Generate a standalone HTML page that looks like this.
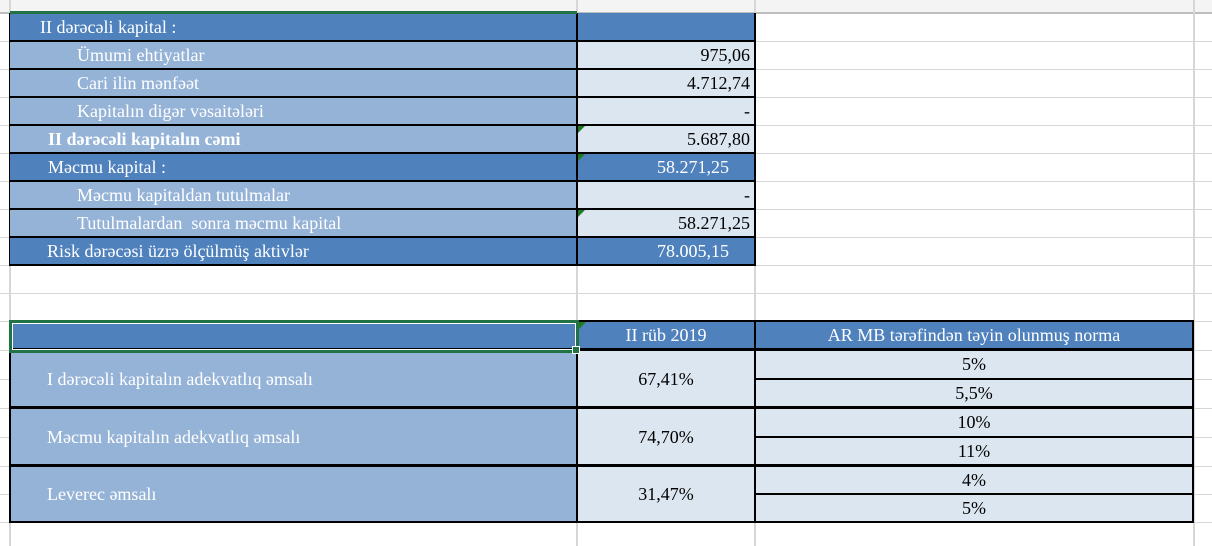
<!DOCTYPE html><html><head><meta charset="utf-8"><style>
body{margin:0;width:1212px;height:546px;overflow:hidden;background:#fff;position:relative;font-family:"Liberation Serif","Times New Roman",serif;font-size:18px}
div{position:absolute;box-sizing:border-box}
.h{height:1px;left:0;width:1212px;background:#d6d6d6}
.v{width:2px;top:0;height:546px;background:#d6d6d6}
.c{line-height:28px;white-space:nowrap;overflow:hidden}
.d{background:#4f81bd;color:#fff}
.l{background:#95b3d7;color:#fff}
.p{background:#dce6f1;color:#000}
.bh{background:#000;height:2px}
.bv{background:#000;width:2px}
.tri{width:0;height:0;border-top:7px solid #1e7a1e;border-right:7px solid transparent}
</style></head><body>
<div style="left:0;top:0;width:1212px;height:12px;background:#f4f4f4"></div>
<div class="h" style="top:12px;background:#bdbdbd;height:2px"></div>
<div class="h" style="top:41px"></div><div class="h" style="top:69px"></div><div class="h" style="top:97px"></div><div class="h" style="top:125px"></div><div class="h" style="top:153px"></div><div class="h" style="top:181px"></div><div class="h" style="top:209px"></div><div class="h" style="top:237px"></div><div class="h" style="top:265px"></div><div class="h" style="top:293px"></div><div class="h" style="top:321px"></div><div class="h" style="top:350px"></div><div class="h" style="top:379px"></div><div class="h" style="top:408px"></div><div class="h" style="top:437px"></div><div class="h" style="top:466px"></div><div class="h" style="top:494px"></div><div class="h" style="top:522px"></div>
<div class="v" style="left:9px"></div><div class="v" style="left:576px"></div><div class="v" style="left:754px"></div><div class="v" style="left:1193px"></div>

<!-- top table -->
<div class="c d" style="left:10px;top:13px;width:567px;height:28px;padding-left:30px">II dərəcəli kapital :</div>
<div class="c d" style="left:577px;top:13px;width:177px;height:28px"></div>
<div class="c l" style="left:10px;top:41px;width:567px;height:28px;padding-left:67px">Ümumi ehtiyatlar</div>
<div class="c p" style="left:577px;top:41px;width:177px;height:28px;text-align:right;padding-right:4px">975,06</div>
<div class="c l" style="left:10px;top:69px;width:567px;height:28px;padding-left:67px">Cari ilin mənfəət</div>
<div class="c p" style="left:577px;top:69px;width:177px;height:28px;text-align:right;padding-right:4px">4.712,74</div>
<div class="c l" style="left:10px;top:97px;width:567px;height:28px;padding-left:67px">Kapitalın digər vəsaitələri</div>
<div class="c p" style="left:577px;top:97px;width:177px;height:28px;text-align:right;padding-right:4px">-</div>
<div class="c l" style="left:10px;top:125px;width:567px;height:28px;padding-left:38px;font-weight:bold">II dərəcəli kapitalın cəmi</div>
<div class="c p" style="left:577px;top:125px;width:177px;height:28px;text-align:right;padding-right:4px">5.687,80</div>
<div class="c d" style="left:10px;top:153px;width:567px;height:28px;padding-left:38px">Məcmu kapital :</div>
<div class="c d" style="left:577px;top:153px;width:177px;height:28px;text-align:right;padding-right:25px">58.271,25</div>
<div class="c l" style="left:10px;top:181px;width:567px;height:28px;padding-left:67px">Məcmu kapitaldan tutulmalar</div>
<div class="c p" style="left:577px;top:181px;width:177px;height:28px;text-align:right;padding-right:4px">-</div>
<div class="c l" style="left:10px;top:209px;width:567px;height:28px;padding-left:67px">Tutulmalardan&nbsp; sonra məcmu kapital</div>
<div class="c p" style="left:577px;top:209px;width:177px;height:28px;text-align:right;padding-right:4px">58.271,25</div>
<div class="c d" style="left:10px;top:237px;width:567px;height:28px;padding-left:37px">Risk dərəcəsi üzrə ölçülmüş aktivlər</div>
<div class="c d" style="left:577px;top:237px;width:177px;height:28px;text-align:right;padding-right:25px">78.005,15</div>
<div class="bh" style="left:10px;top:40px;width:745px"></div><div class="bh" style="left:10px;top:68px;width:745px"></div><div class="bh" style="left:10px;top:96px;width:745px"></div><div class="bh" style="left:10px;top:124px;width:745px"></div><div class="bh" style="left:10px;top:152px;width:745px"></div><div class="bh" style="left:10px;top:180px;width:745px"></div><div class="bh" style="left:10px;top:208px;width:745px"></div><div class="bh" style="left:10px;top:236px;width:745px"></div><div class="bh" style="left:10px;top:264px;width:745px"></div>
<div class="bv" style="left:576px;top:13px;height:253px"></div><div class="bv" style="left:754px;top:13px;height:253px"></div><div class="bv" style="left:9px;top:13px;height:253px;width:1px"></div>
<div style="left:10px;top:11px;width:567px;height:3px;background:#217346"></div>
<div class="tri" style="left:578px;top:126px"></div><div class="tri" style="left:578px;top:154px"></div><div class="tri" style="left:578px;top:210px"></div>

<!-- lower table -->
<div class="c d" style="left:10px;top:321px;width:567px;height:29px"></div>
<div class="c d" style="left:577px;top:321px;width:178px;height:29px;text-align:center">II rüb 2019</div>
<div class="c d" style="left:755px;top:321px;width:438px;height:29px;text-align:center">AR MB tərəfindən təyin olunmuş norma</div>
<div class="c l" style="left:10px;top:350px;width:567px;height:58px;line-height:58px;padding-left:37px">I dərəcəli kapitalın adekvatlıq əmsalı</div>
<div class="c l" style="left:10px;top:408px;width:567px;height:58px;line-height:58px;padding-left:37px">Məcmu kapitalın adekvatlıq əmsalı</div>
<div class="c l" style="left:10px;top:466px;width:567px;height:57px;line-height:57px;padding-left:37px">Leverec əmsalı</div>
<div class="c p" style="left:577px;top:350px;width:178px;height:58px;line-height:58px;text-align:center">67,41%</div>
<div class="c p" style="left:577px;top:408px;width:178px;height:58px;line-height:58px;text-align:center">74,70%</div>
<div class="c p" style="left:577px;top:466px;width:178px;height:57px;line-height:57px;text-align:center">31,47%</div>
<div class="c p" style="left:755px;top:350px;width:438px;height:29px;text-align:center">5%</div>
<div class="c p" style="left:755px;top:379px;width:438px;height:29px;text-align:center">5,5%</div>
<div class="c p" style="left:755px;top:408px;width:438px;height:29px;text-align:center">10%</div>
<div class="c p" style="left:755px;top:437px;width:438px;height:29px;text-align:center">11%</div>
<div class="c p" style="left:755px;top:466px;width:438px;height:28px;text-align:center">4%</div>
<div class="c p" style="left:755px;top:494px;width:438px;height:29px;text-align:center">5%</div>
<div class="bh" style="left:577px;top:320px;width:617px"></div>
<div class="bh" style="left:10px;top:348px;width:1184px;height:3px"></div>
<div class="bh" style="left:755px;top:378px;width:439px"></div>
<div class="bh" style="left:10px;top:406px;width:1184px;height:3px"></div>
<div class="bh" style="left:755px;top:436px;width:439px"></div>
<div class="bh" style="left:10px;top:464px;width:1184px;height:3px"></div>
<div class="bh" style="left:755px;top:493px;width:439px"></div>
<div class="bh" style="left:10px;top:521px;width:1184px"></div>
<div class="bv" style="left:9px;top:321px;height:202px"></div>
<div class="bv" style="left:576px;top:321px;height:202px"></div>
<div class="bv" style="left:754px;top:321px;height:202px"></div>
<div class="bv" style="left:1192px;top:321px;height:202px"></div>
<div style="left:9px;top:320px;width:570px;height:33px;border:3px solid #217346"></div>
<div style="left:12px;top:323px;width:564px;height:27px;border:1px solid #fff"></div>
<div style="left:572px;top:346px;width:8px;height:8px;background:#217346;border:1px solid #fff"></div>
<div class="tri" style="left:579px;top:322px"></div>
</body></html>
